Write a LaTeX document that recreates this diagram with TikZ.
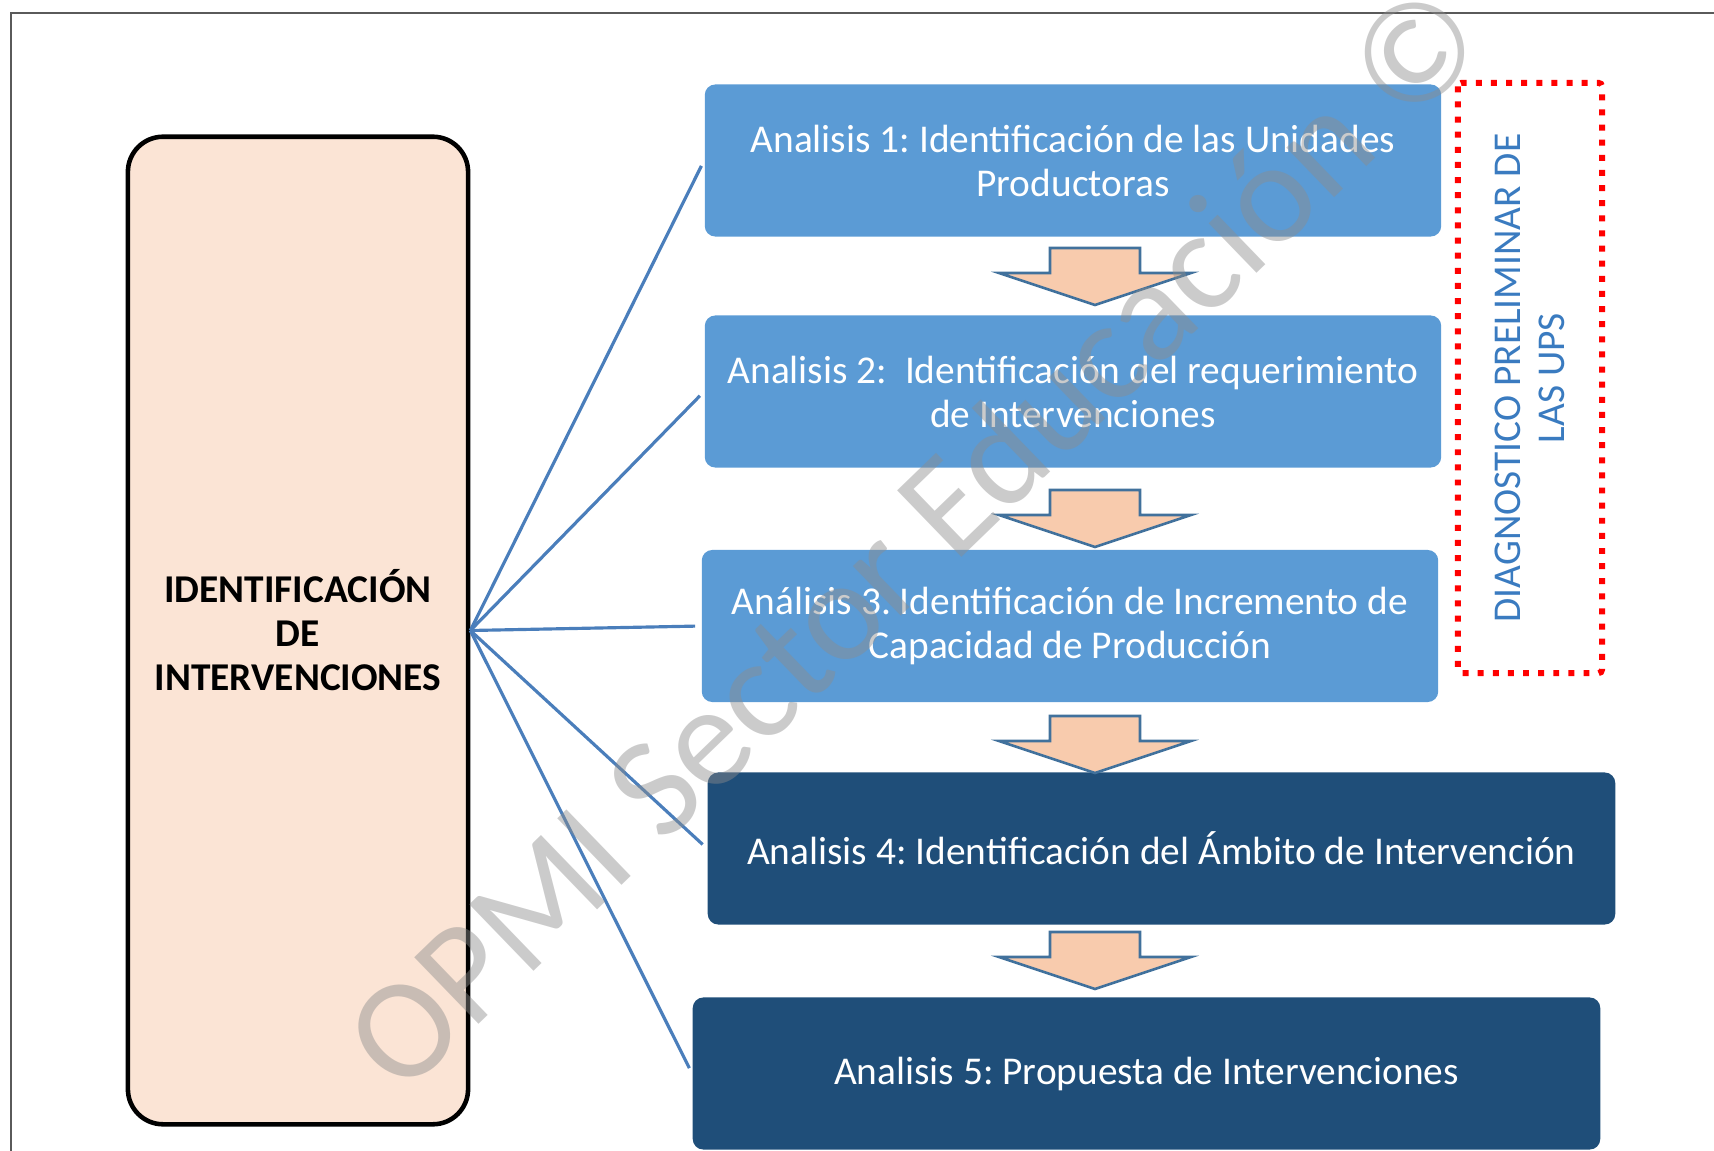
\documentclass[tikz,border=0pt]{standalone}
\usepackage{fontspec}
\setmainfont{Carlito}
\usepackage{xcolor}
\usetikzlibrary{positioning,calc}
\definecolor{CajaClara}{HTML}{5B9BD5}
\definecolor{CajaOscura}{HTML}{1F4E79}
\definecolor{FondoIdent}{HTML}{FBE4D5}
\definecolor{FlechaRelleno}{HTML}{F8CBAD}
\definecolor{FlechaBorde}{HTML}{41719C}
\definecolor{RamaAzul}{HTML}{4A7EBB}
\definecolor{TextoUPS}{HTML}{3A7BC0}
\definecolor{MarcoGris}{HTML}{5A5A5A}
\newcommand{\cuerpo}{\fontsize{11.2}{12.5}\selectfont}
\newcommand{\caja}[5]{\node[caja,fill=#2,minimum width=#3] (#1) at (#4) {#5};}
\newcommand{\bajada}[1]{\draw[flechabloque] ([shift={(-45,0)}]#1) -- ([shift={(45,0)}]#1) -- ([shift={(45,25)}]#1) -- ([shift={(96,25)}]#1) -- ([shift={(0,57)}]#1) -- ([shift={(-96,25)}]#1) -- ([shift={(-45,25)}]#1) -- cycle;}
\frenchspacing
\tikzset{
  caja/.style={rounded corners=3pt,minimum height=1.52cm,text=white,align=center,inner sep=4pt,font=\cuerpo},
  ident/.style={draw=black,line width=1.3pt,fill=FondoIdent,rounded corners=10pt,minimum width=3.4cm,minimum height=9.87cm,align=center,font=\cuerpo\bfseries},
  ups/.style={rotate=90,draw=red,line width=1.7pt,dash pattern=on 1.7pt off 2.6pt,rounded corners=1pt,minimum width=5.9cm,minimum height=1.44cm,align=center,text=TextoUPS,font=\cuerpo},
  flechabloque/.style={fill=FlechaRelleno,draw=FlechaBorde,line width=0.75pt,line join=miter},
  rama/.style={draw=RamaAzul,line width=0.9pt,shorten >=1.7pt},
  marcaagua/.style={rotate=44,text=black!45,opacity=0.45,font=\fontsize{41}{41}\selectfont},
}
\begin{document}
\begin{tikzpicture}[x=0.01cm,y=-0.01cm]
  \useasboundingbox (0,0) rectangle (1714,1151);
  \draw[draw=MarcoGris,line width=0.6pt] (11,13) rectangle (1760,1200);
  \node[ident] (ident) at (298,630.5) {IDENTIFICACIÓN\\DE\\INTERVENCIONES};
  \caja{a1}{CajaClara}{7.36cm}{1073,160.5}{Analisis 1: Identificación de las Unidades\\Productoras}
  \caja{a2}{CajaClara}{7.36cm}{1073,391.5}{Analisis 2:~ Identificación del requerimiento\\de Intervenciones}
  \caja{a3}{CajaClara}{7.36cm}{1070,626}{Análisis 3. Identificación de Incremento de\\Capacidad de Producción}
  \caja{a4}{CajaOscura}{9.07cm}{1161.5,848.5}{Analisis 4: Identificación del Ámbito de Intervención}
  \caja{a5}{CajaOscura}{9.07cm}{1146.5,1073.5}{Analisis 5: Propuesta de Intervenciones}
  \node[ups] (ups) at (1530,378) {DIAGNOSTICO PRELIMINAR DE\\LAS UPS};
  \coordinate (f1) at (1095,248);
  \coordinate (f2) at (1095,490);
  \coordinate (f3) at (1095,716);
  \coordinate (f4) at (1095,932);
  \foreach \n in {1,...,4} {\bajada{f\n}}
  \foreach \b in {a1,a2,a3,a4,a5} \draw[rama] (ident.east) -- (\b.west);
  \node[marcaagua] (marca) at (913,536) {OPMI Sector Educación ©};
\end{tikzpicture}
\end{document}
